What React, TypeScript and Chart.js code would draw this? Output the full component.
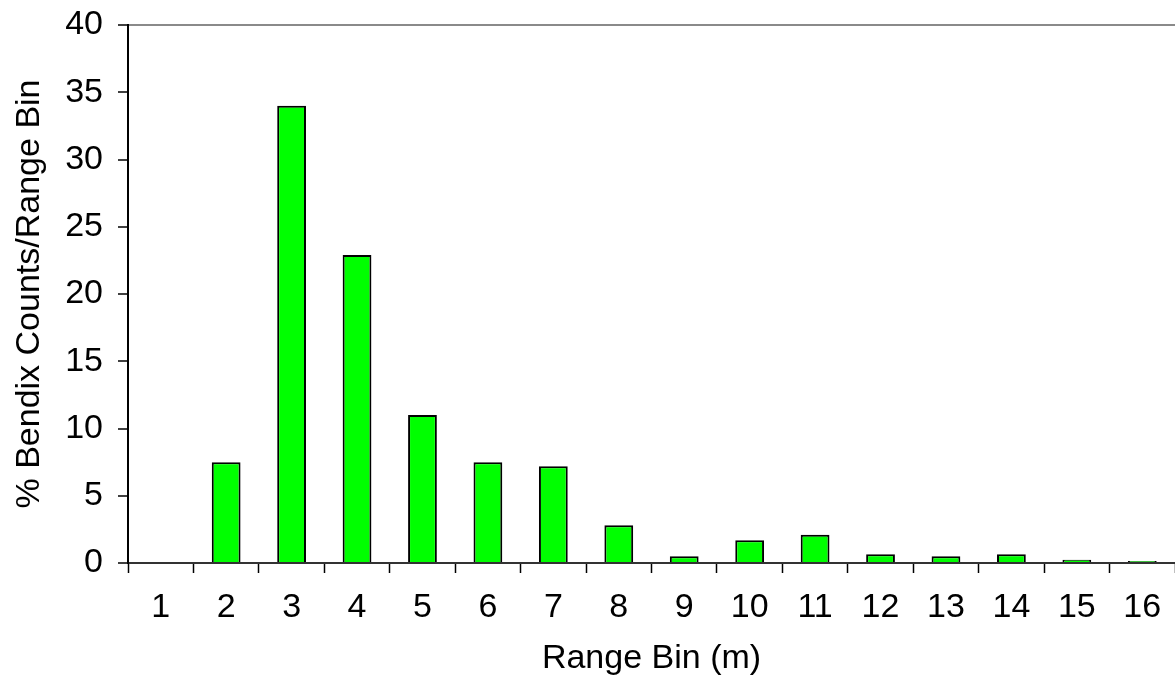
import React, { useEffect, useRef } from "react";
import { Chart, registerables } from "chart.js";

Chart.register(...registerables);

const categories = ["1", "2", "3", "4", "5", "6", "7", "8", "9", "10", "11", "12", "13", "14", "15", "16"];
const percentValues = [0, 7.5, 34, 22.9, 11, 7.5, 7.2, 2.8, 0.5, 1.7, 2.1, 0.65, 0.5, 0.65, 0.25, 0.15];
const yTickMin = 0;
const yTickMax = 40;
const yTickStep = 5;
const xTitle = "Range Bin (m)";
const yTitle = "% Bendix Counts/Range Bin";

export default function App() {
  const ref = useRef<HTMLCanvasElement | null>(null);

  useEffect(() => {
    document.body.style.margin = "0";
    const canvas = ref.current;
    if (!canvas) return;
    const font = "'Liberation Sans', Arial, sans-serif";
    const chart = new Chart(canvas, {
      type: "bar",
      data: {
        labels: categories,
        datasets: [
          {
            data: percentValues,
            backgroundColor: "#00FF00",
            borderColor: "#000000",
            borderWidth: 2,
            categoryPercentage: 1,
            barPercentage: 0.44,
          },
        ],
      },
      options: {
        responsive: false,
        animation: false,
        maintainAspectRatio: false,
        layout: { padding: { top: 25, right: 0, bottom: 0, left: 0 } },
        plugins: {
          legend: { display: false },
          tooltip: { enabled: false },
          title: { display: false },
        },
        scales: {
          x: {
            offset: true,
            grid: {
              offset: true,
              drawOnChartArea: false,
              color: "#000",
              tickColor: "#000",
              tickLength: 10,
              tickWidth: 1.5,
            },
            border: { display: true, color: "#333", width: 2 },
            ticks: {
              color: "#000",
              font: { family: font, size: 34 },
              padding: 14,
              maxRotation: 0,
              autoSkip: false,
            },
            title: {
              display: true,
              text: xTitle,
              color: "#000",
              font: { family: font, size: 34 },
              padding: { top: 0, bottom: 12 },
            },
            afterFit: (scale: any) => {
              scale.height = 128;
              scale.paddingLeft = 0;
              scale.paddingRight = 0;
            },
          },
          y: {
            min: yTickMin,
            max: yTickMax,
            grid: {
              drawOnChartArea: true,
              color: (ctx: any) => (ctx.tick && ctx.tick.value === yTickMax ? "#8a8a8a" : "rgba(0,0,0,0)"),
              lineWidth: 2,
              tickColor: "#000",
              tickLength: 10,
              tickWidth: 1.5,
            },
            border: { display: true, color: "#000", width: 2 },
            ticks: {
              stepSize: yTickStep,
              color: "#000",
              font: { family: font, size: 34 },
              padding: 15,
            },
            title: {
              display: true,
              text: yTitle,
              color: "#000",
              font: { family: font, size: 34 },
              padding: { top: 9, bottom: 0 },
            },
            afterFit: (scale: any) => {
              scale.width = 128;
              scale.paddingTop = 0;
              scale.paddingBottom = 0;
            },
          },
        },
      },
    });
    return () => chart.destroy();
  }, []);

  return (
    <div style={{ width: 1175, height: 691, background: "#fff", overflow: "hidden" }}>
      <canvas ref={ref} width={1175} height={691} style={{ display: "block" }} />
    </div>
  );
}
